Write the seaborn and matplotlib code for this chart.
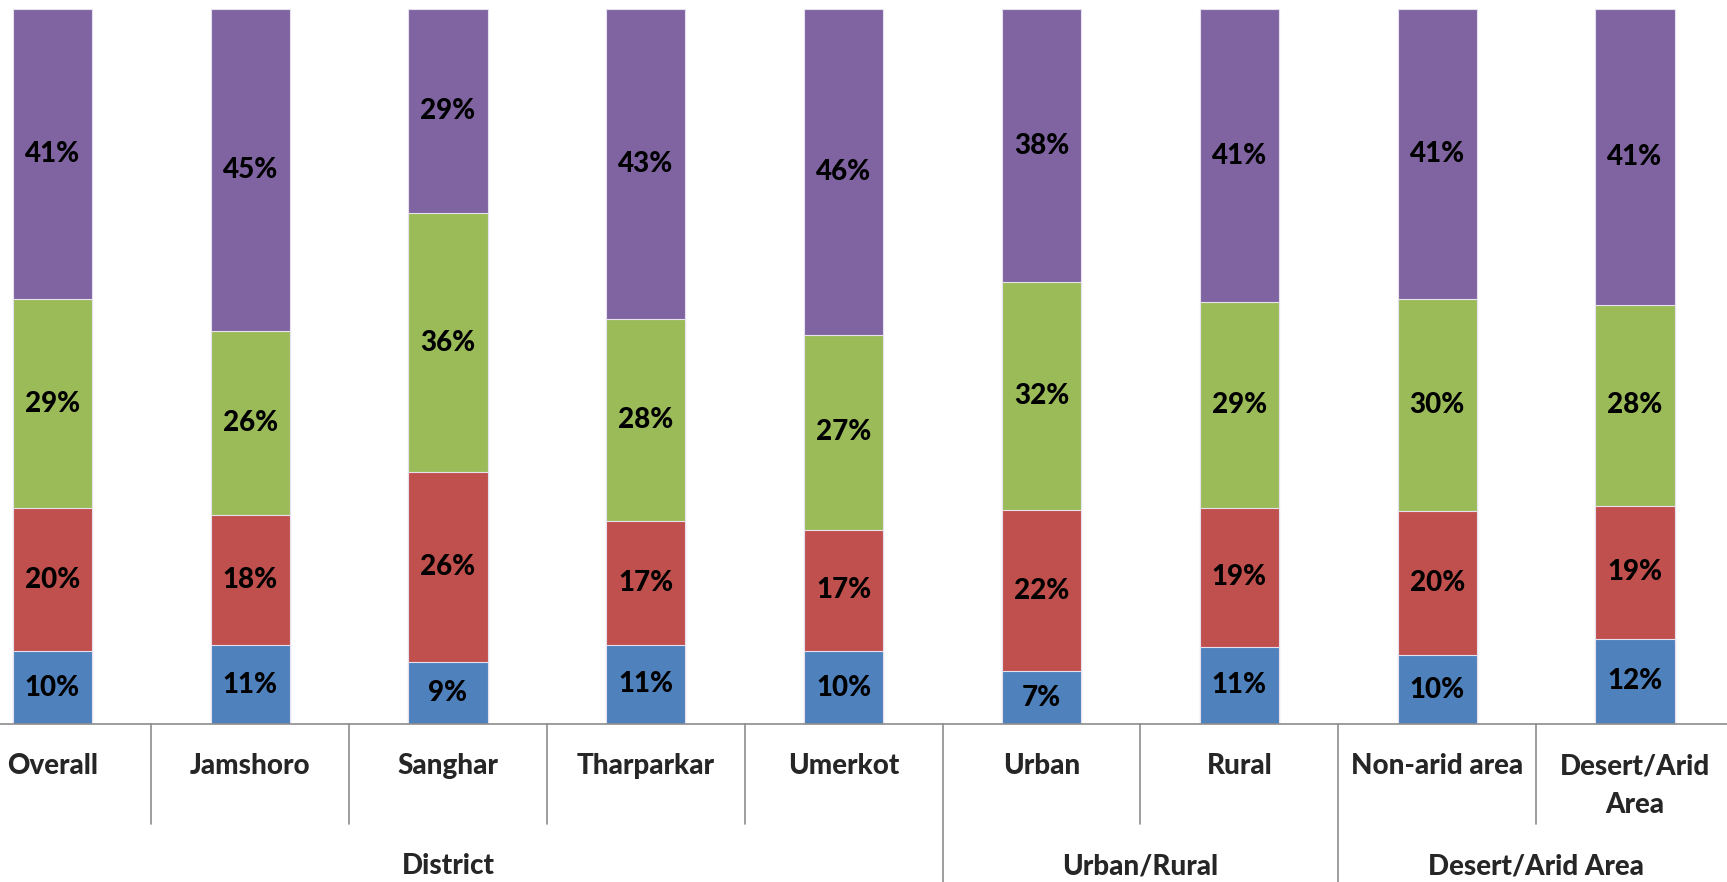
import matplotlib
matplotlib.use("Agg")
import matplotlib.pyplot as plt
import matplotlib.transforms as mtransforms
import seaborn as sns
import numpy as np
import pandas as pd

# values (share of respondents, %)
categories = ["Overall", "Jamshoro", "Sanghar", "Tharparkar", "Umerkot",
              "Urban", "Rural", "Non-arid area", "Desert/Arid\nArea"]
blue = [10.2, 11.0, 8.7, 11.1, 10.2, 7.4, 10.8, 9.6, 11.9]
red = [20.0, 18.2, 26.5, 17.3, 17.0, 22.5, 19.4, 20.2, 18.6]
green = [29.2, 25.7, 36.2, 28.3, 27.2, 31.9, 28.8, 29.6, 28.1]
purple = [40.6, 45.1, 28.6, 43.3, 45.6, 38.2, 41.0, 40.6, 41.4]
groups = ["District", "Urban/Rural", "Desert/Arid Area"]
group_span = [(0, 4), (5, 6), (7, 8)]

colors = ["#4F81BD", "#C0504D", "#9BBB59", "#8064A2"]
series = [blue, red, green, purple]

sns.set_style("white")
plt.rcParams["font.family"] = ["Lato", "DejaVu Sans"]

df = pd.DataFrame({"cat": categories, "blue": blue, "red": red,
                   "green": green, "purple": purple})
cum = np.cumsum(np.array(series), axis=0)

fig = plt.figure(figsize=(17.27, 8.82), dpi=100)
W, H = 1727, 882
slot = 197.84
left_px = 52.3 - slot / 2
ax = fig.add_axes([left_px / W, (H - 724) / H, 9 * slot / W, 715 / H])

# stacked bars: draw the cumulative totals from the top down
for i in range(3, -1, -1):
    sns.barplot(x=df["cat"], y=cum[i], color=colors[i], width=0.4,
                edgecolor="#e6e0ef", linewidth=0.8, saturation=1, ax=ax)

FS = 20
WT = "black"

# value labels in segment centres
for i in range(4):
    base = cum[i] - np.array(series[i])
    for k, v in enumerate(series[i]):
        ax.text(k, base[k] + v / 2, f"{v:.0f}%", ha="center", va="center",
                fontsize=FS, fontweight=WT, color="black")

ax.set_xlim(-0.5, 8.5)
ax.set_ylim(0, 100)
ax.set_ylabel("")
ax.set_xlabel("")
ax.set_yticks([])
for s in ["top", "left", "right"]:
    ax.spines[s].set_visible(False)
ax.spines["bottom"].set_color("#8c8c8c")
ax.spines["bottom"].set_linewidth(1.2)

ax.set_xticks(range(len(categories)))
ax.set_xticklabels(categories, fontsize=FS, fontweight=WT, va="top",
                   linespacing=1.6)
ax.tick_params(axis="x", length=0, pad=21)

# multi-level axis separators
trans = mtransforms.blended_transform_factory(ax.transData, ax.transAxes)
inner_drop = 100 / 715
outer_drop = 170 / 715
group_edges = [s[1] + 0.5 for s in group_span]
for k in range(len(categories) + 1):
    xs = k - 0.5
    drop = outer_drop if (xs in group_edges or xs == -0.5) else inner_drop
    ax.plot([xs, xs], [0, -drop], color="#8c8c8c", lw=1.2,
            transform=trans, clip_on=False)

for name, (a, b) in zip(groups, group_span):
    ax.text((a + b) / 2, -142 / 715, name, ha="center", va="center",
            fontsize=FS, fontweight=WT, transform=trans)

fig.savefig("out.png", dpi=100)
